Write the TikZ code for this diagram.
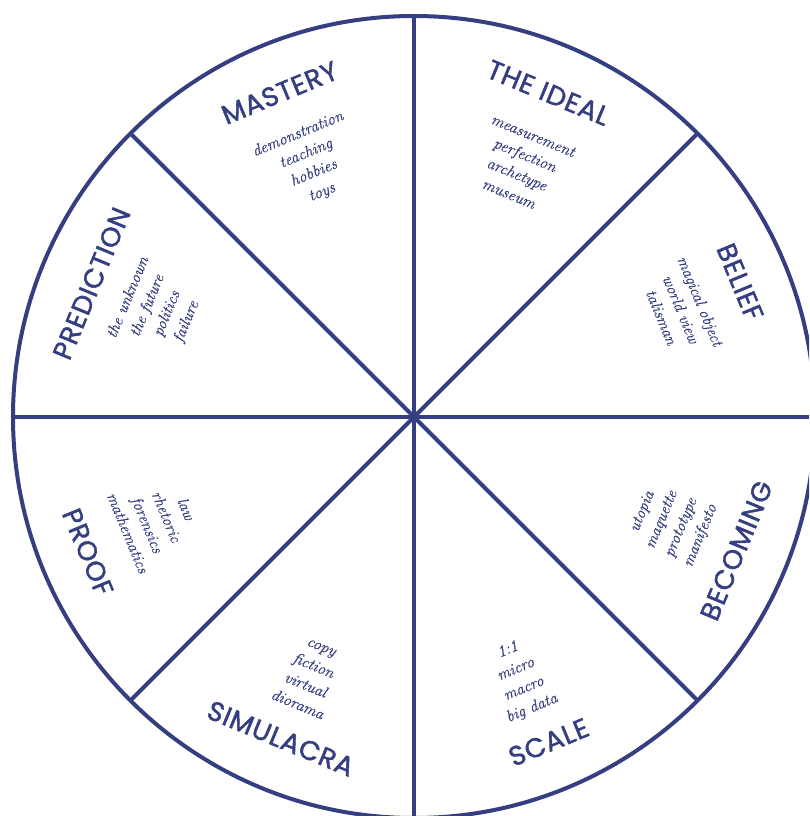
\documentclass[tikz,border=0pt]{standalone}
\usepackage{fontspec}
\newfontfamily\titlefont[LetterSpace=3, FakeBold=1.6]{Poppins}
\newfontfamily\itemfont[FakeBold=0.6]{Latin Modern Roman}
\definecolor{navy}{RGB}{52,62,128}
\begin{document}
\begin{tikzpicture}[x=1pt,y=1pt,
  rim/.style={line width=4pt, draw=navy},
  spoke/.style={line width=4pt, draw=navy},
  title/.style={font=\titlefont\fontsize{27}{27}\selectfont, text=navy, inner sep=0pt},
  items/.style={font=\itemfont\itshape\fontsize{16}{21}\selectfont, text=navy, align=center, inner sep=0pt}]
\useasboundingbox (-414,-399) rectangle (395,417);
\clip (-414,-399) rectangle (395,417);
\coordinate (c) at (0,0);
\draw[rim] (c) circle (401);
\foreach \a in {0,45,...,315} \draw[spoke] (c) -- (\a:401);
% titles
\node[title, rotate=22.5]  (mastery)    at (112.5:351)  {MASTERY};
\node[title, rotate=-22.5] (ideal)      at (67.5:351)   {THE IDEAL};
\node[title, rotate=-67.5] (belief)     at (22.5:353)   {BELIEF};
\node[title, rotate=67.5]  (becoming)   at (-22.5:349)  {BECOMING};
\node[title, rotate=22.5]  (scale)      at (-67.5:352)  {SCALE};
\node[title, rotate=-22.5] (simulacra)  at (-112.5:348) {SIMULACRA};
\node[title, rotate=-67.5] (proof)      at (-157.5:353) {PROOF};
\node[title, rotate=67.5]  (prediction) at (157.5:349)  {PREDICTION};
% item lists
\node[items, rotate=22.5]  (masteryl)    at (112.3:274)  {demonstration\\teaching\\hobbies\\toys};
\node[items, rotate=-22.5] (ideall)      at (67:274)     {measurement\\perfection\\archetype\\museum};
\node[items, rotate=-67.5] (beliefl)     at (22:288)     {magical object\\world view\\talisman};
\node[items, rotate=67.5]  (becomingl)   at (-22.5:279)  {utopia\\maquette\\prototype\\manifesto};
\node[items, rotate=22.5]  (scalel)      at (-68:283)    {1:1\\micro\\macro\\big data};
\node[items, rotate=-22.5] (simulacral)  at (-112:280)   {copy\\fiction\\virtual\\diorama};
\node[items, rotate=-67.5] (proofl)      at (-158:277)   {law\\rhetoric\\forensics\\mathematics};
\node[items, rotate=67.5]  (predictionl) at (157.3:278)  {the unknown\\the future\\politics\\failure};
\end{tikzpicture}
\end{document}
